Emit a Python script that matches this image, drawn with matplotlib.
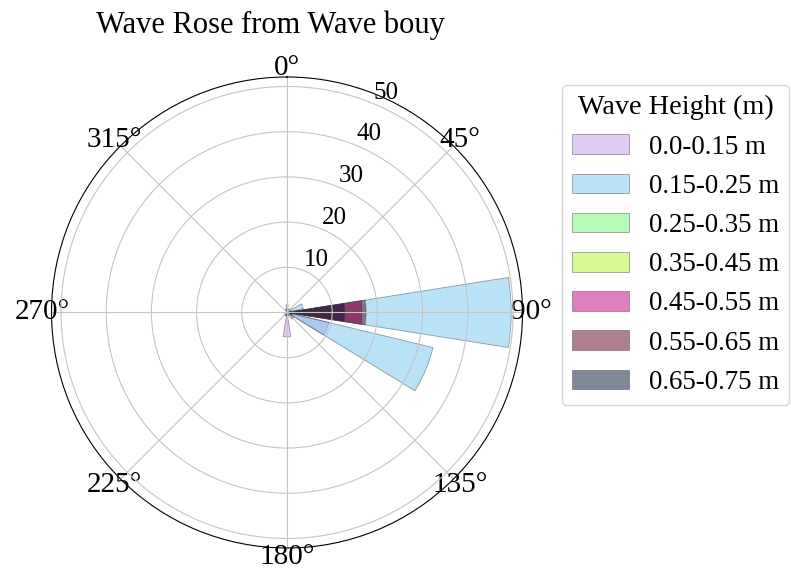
import numpy as np
import matplotlib.pyplot as plt
from matplotlib.patches import Patch

plt.rcParams['font.family'] = ['Liberation Serif', 'DejaVu Serif']

# direction sectors (deg) and frequency (%) for each wave height bin
directions = np.arange(0, 360, 22.5)
bin_labels = ['0.0-0.15 m', '0.15-0.25 m', '0.25-0.35 m', '0.35-0.45 m',
              '0.45-0.55 m', '0.55-0.65 m', '0.65-0.75 m']
h_000_015 = [1.7, 0.5, 0.3, 0.4, 0.8, 9.5, 0.6, 0.8, 5.4, 0.6, 0.3, 0.2, 0.3, 0.2, 0.3, 0.8]
h_015_025 = [0.6, 0.4, 0.8, 3.7, 49.6, 33.2, 1.0, 0.3, 0.4, 0.2, 0.2, 0.1, 0.2, 0.1, 0.2, 0.3]
h_025_035 = [0.2, 0.8, 1.2, 0.4, 0.5, 0.3, 0.2, 0.0, 0.1, 0.0, 0.0, 0.0, 0.0, 0.0, 0.0, 0.1]
h_035_045 = [0.0, 0.2, 0.5, 0.3, 10.0, 0.4, 0.1, 0.0, 0.0, 0.0, 0.0, 0.0, 0.0, 0.0, 0.0, 0.0]
h_045_055 = [0.0, 0.0, 0.0, 0.0, 16.6, 0.8, 1.8, 0.6, 0.3, 0.0, 0.0, 0.0, 0.0, 0.0, 0.0, 0.0]
h_055_065 = [0.0, 0.0, 0.0, 0.0, 17.5, 1.0, 0.0, 0.0, 0.0, 0.8, 0.3, 0.0, 0.0, 0.0, 0.0, 0.0]
h_065_075 = [0.0, 0.0, 0.0, 0.0, 12.8, 1.2, 0.0, 0.0, 0.6, 0.0, 0.8, 0.4, 0.0, 0.0, 0.0, 0.0]
colors = ['#c599e9', '#77c7ef', '#71f771', '#b1f529', '#bf017f', '#61001d', '#001133']

freqs = [h_000_015, h_015_025, h_025_035, h_035_045, h_045_055, h_055_065, h_065_075]

fig = plt.figure(figsize=(7.91, 5.72), dpi=100)
ax = fig.add_axes([0.0651, 0.042, 0.5955, 0.8234], projection='polar')
ax.set_theta_zero_location('N')
ax.set_theta_direction(-1)

theta = np.deg2rad(directions)
width = np.deg2rad(22.5) * 0.8
for vals, c in zip(freqs, colors):
    ax.bar(theta, vals, width=width, bottom=0, color=c, edgecolor='#404050',
           linewidth=0.6, alpha=0.5)

ax.set_ylim(0, 52.1)
ax.set_yticks([10, 20, 30, 40, 50])
ax.set_xticks(np.deg2rad(np.arange(0, 360, 45)))
ax.set_xticklabels(['0°', '45°', '90°', '135°', '180°', '225°', '270°', '315°'])
ax.tick_params(axis='x', labelsize=21, pad=-4)
ax.tick_params(axis='y', labelsize=18)
ax.grid(color='#c4c4c4', linewidth=0.8)

fig.text(270 / 791, 1 - 33 / 572, 'Wave Rose from Wave bouy', fontsize=22,
         ha='center', va='baseline')

handles = [Patch(facecolor=c, edgecolor='#404050', linewidth=0.6, alpha=0.5) for c in colors]
leg = fig.legend(handles, bin_labels, title='Wave Height (m)', loc='upper left',
                 bbox_to_anchor=(562 / 791, 1 - 85 / 572), borderaxespad=0,
                 fontsize=19.4, title_fontsize=20.3, handlelength=2.1,
                 handleheight=0.74, handletextpad=0.74, labelspacing=0.52,
                 borderpad=0.38)

fig.savefig('out.png', dpi=100)
